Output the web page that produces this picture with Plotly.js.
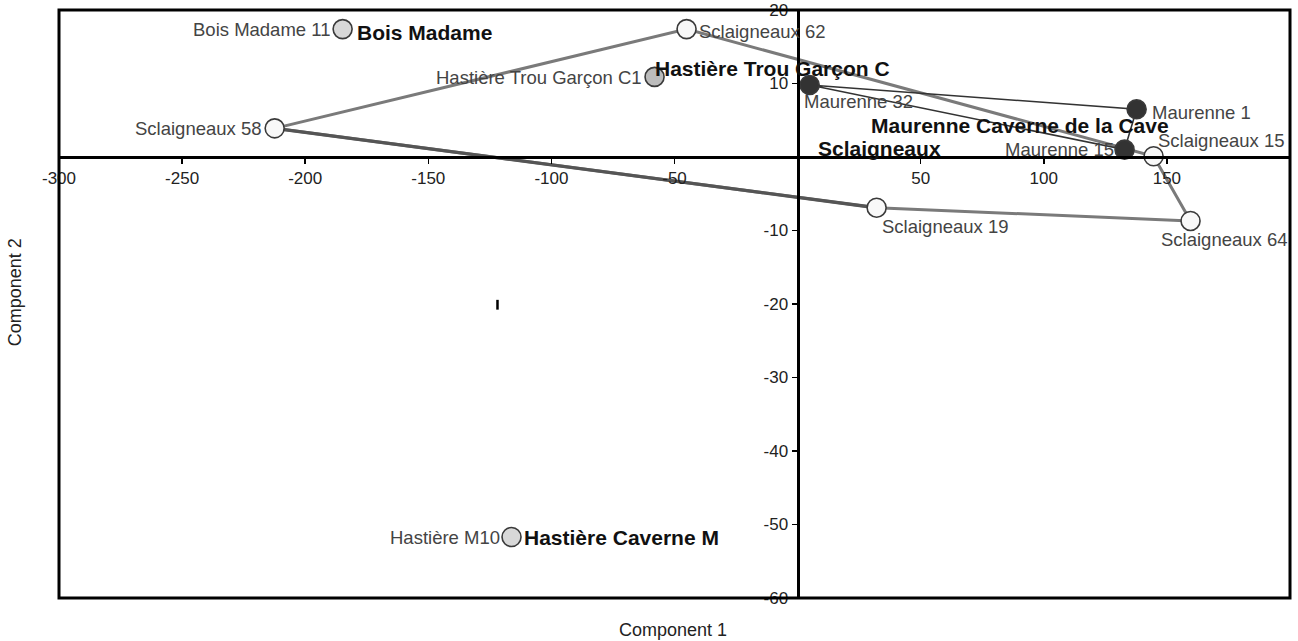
<!DOCTYPE html>
<html>
<head>
<meta charset="utf-8">
<script src="https://cdn.plot.ly/plotly-3.0.1.min.js"></script>
<style>html,body{margin:0;padding:0;background:#fff;}#chart{width:1298px;height:641px;}</style>
</head>
<body>
<div id="chart"></div>
<script>
// Point data
const sampleNames = ['Bois Madame 11','Hastière Trou Garçon C1','Hastière M10','Maurenne 32','Maurenne 1','Maurenne 15','Sclaigneaux 62','Sclaigneaux 58','Sclaigneaux 19','Sclaigneaux 64','Sclaigneaux 15'];
const comp1 = [-184.8, -58.1, -116.2, 4.9, 137.7, 132.8, -45.1, -212.4, 32.1, 159.6, 144.6];
const comp2 = [17.4, 10.9, -51.7, 9.8, 6.5, 1.0, 17.4, 3.9, -6.9, -8.7, 0.1];
const sampleGroup = ['Bois Madame','Hastière Trou Garçon C','Hastière Caverne M','Maurenne Caverne de la Cave','Maurenne Caverne de la Cave','Maurenne Caverne de la Cave','Sclaigneaux','Sclaigneaux','Sclaigneaux','Sclaigneaux','Sclaigneaux'];

// Groups
const groupNames = ['Bois Madame','Hastière Trou Garçon C','Hastière Caverne M','Maurenne Caverne de la Cave','Sclaigneaux'];
const groupLabelX = [-179.9, -58.6, -112.1, 28.8, 7.3];
const groupLabelY = [17.0, 12.1, -51.7, 4.35, 1.2];

// Stray mark visible in the reference
const strayX = [-121.9];
const strayY = [-20.1];

// Convex hulls (by sample name)
const hullMaurenne = ['Maurenne 32','Maurenne 1','Maurenne 15','Maurenne 32'];
const hullSclaigneaux = ['Sclaigneaux 58','Sclaigneaux 62','Sclaigneaux 15','Sclaigneaux 64','Sclaigneaux 19','Sclaigneaux 58'];
const hullDoubledEdge = ['Sclaigneaux 58','Sclaigneaux 19'];

// Ticks
const xTicks = [-300,-250,-200,-150,-100,-50,50,100,150];
const yTicks = [-60,-50,-40,-30,-20,-10,10,20];

// Styling (not data)
const groupFill = {'Bois Madame':'#d8d8d8','Hastière Trou Garçon C':'#bcbcbc','Hastière Caverne M':'#d8d8d8','Maurenne Caverne de la Cave':'#333333','Sclaigneaux':'#f8f8f8'};
// label placement per sample: [xanchor, xshift, yshift]
const labelPlace = {
  'Bois Madame 11':['right',-11,0],
  'Hastière Trou Garçon C1':['right',-11,-1],
  'Hastière M10':['right',-10,0],
  'Maurenne 32':['left',-8,-17],
  'Maurenne 1':['left',13,-3],
  'Maurenne 15':['right',-9,0],
  'Sclaigneaux 62':['left',10,-2],
  'Sclaigneaux 58':['right',-11,0],
  'Sclaigneaux 19':['left',3,-19],
  'Sclaigneaux 64':['left',-32,-19],
  'Sclaigneaux 15':['left',2,16]
};
const FONT = 'Liberation Sans, Arial, sans-serif';

function pick(names, arr){ return names.map(n => arr[sampleNames.indexOf(n)]); }
function hullTrace(names, color, width){
  return {x: pick(names, comp1), y: pick(names, comp2), mode: 'lines', type: 'scatter',
    hoverinfo: 'skip', line: {color: color, width: width}, showlegend: false};
}

const traces = [
  hullTrace(hullSclaigneaux, '#7a7a7a', 3),
  hullTrace(hullDoubledEdge, '#555555', 3.4),
  hullTrace(hullMaurenne, '#333333', 1.6),
  {x: strayX, y: strayY, mode: 'markers', type: 'scatter', showlegend: false, hoverinfo: 'skip',
    marker: {symbol: 'line-ns-open', size: 7, color: '#000', line: {color: '#000', width: 2.5}}},
  {x: comp1, y: comp2, mode: 'markers', type: 'scatter', cliponaxis: false,
    marker: {size: 19, color: sampleGroup.map(g => groupFill[g]), line: {color: '#3a3a3a', width: 1.6}},
    showlegend: false}
];

const annotations = sampleNames.map((n, i) => ({
  x: comp1[i], y: comp2[i], xref: 'x', yref: 'y', text: n, showarrow: false,
  xanchor: labelPlace[n][0], yanchor: 'middle', xshift: labelPlace[n][1], yshift: labelPlace[n][2],
  font: {family: FONT, size: 18.5, color: '#444'}
}));
groupNames.forEach((g, i) => annotations.push({
  x: groupLabelX[i], y: groupLabelY[i], xref: 'x', yref: 'y', text: '<b>' + g + '</b>',
  showarrow: false, xanchor: 'left', yanchor: 'middle',
  font: {family: FONT, size: 21, color: '#111'}
}));
annotations.push({xref: 'paper', yref: 'paper', x: 0.4985, y: 0, yshift: -32, text: 'Component 1', showarrow: false, xanchor: 'center', yanchor: 'middle', font: {family: FONT, size: 18, color: '#222'}});
annotations.push({xref: 'paper', yref: 'paper', x: 0, xshift: -44, y: 0.52, text: 'Component 2', textangle: -90, showarrow: false, xanchor: 'center', yanchor: 'middle', font: {family: FONT, size: 18, color: '#222'}});

const axisCommon = {
  anchor: 'free', showline: true, linecolor: '#000', linewidth: 3, showgrid: false, zeroline: false,
  ticks: 'outside', ticklen: 5, tickwidth: 1.5, tickcolor: '#000', tickfont: {family: FONT, size: 17, color: '#222'}
};
const layout = {
  width: 1298, height: 641,
  margin: {l: 59, r: 8, t: 10, b: 43},
  paper_bgcolor: '#fff', plot_bgcolor: '#fff',
  font: {family: FONT},
  xaxis: Object.assign({}, axisCommon, {range: [-300, 200], position: 0.75, tickvals: xTicks, ticktext: xTicks.map(String)}),
  yaxis: Object.assign({}, axisCommon, {range: [-60, 20], position: 0.6, tickvals: yTicks, ticktext: yTicks.map(String)}),
  shapes: [{type: 'rect', xref: 'paper', yref: 'paper', x0: 0, x1: 1, y0: 0, y1: 1, line: {color: '#000', width: 3}}],
  annotations: annotations
};

Plotly.newPlot('chart', traces, layout, {displayModeBar: false, staticPlot: true});
</script>
</body>
</html>
